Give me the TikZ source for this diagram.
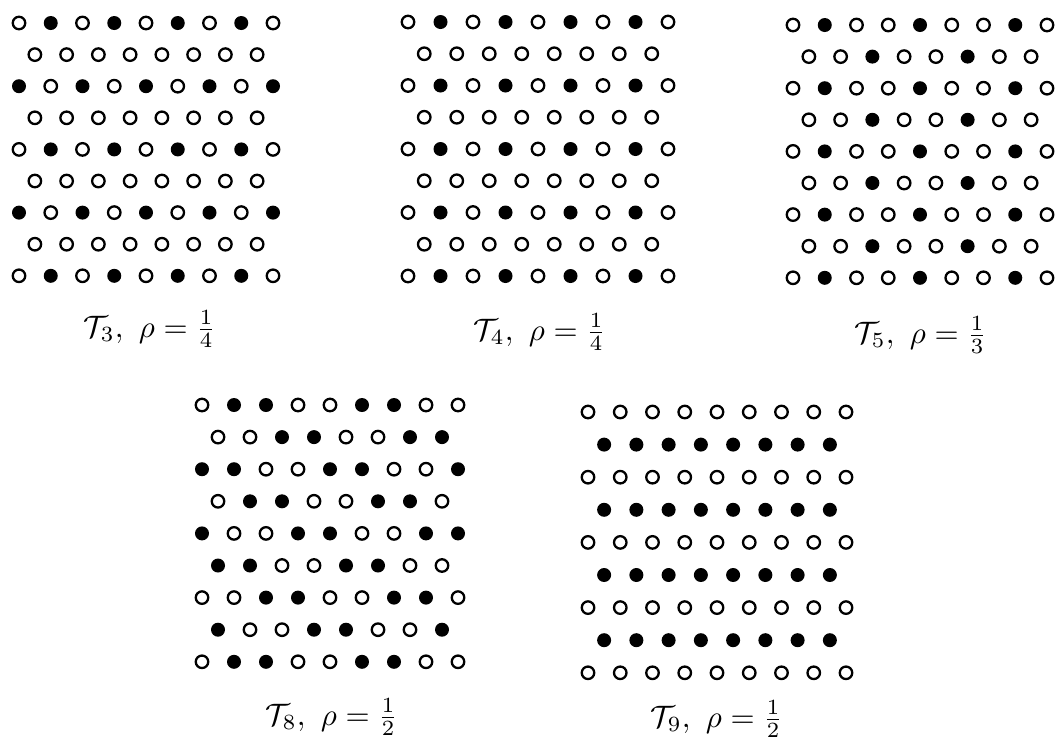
\documentclass[tikz,border=0pt]{standalone}
\tikzset{
  opendot/.style={circle, draw=black, line width=2.3pt, minimum size=12.5pt, inner sep=0pt},
  filldot/.style={circle, fill=black, minimum size=14pt, inner sep=0pt},
  lbl/.style={anchor=base, inner sep=0pt, scale=3.1}
}
\newcommand\drawlattice[6]{%
  \foreach \row [count=\r from 0] in {#6} {
    \foreach \v [count=\c from 0] in \row {
      \pgfmathsetmacro\xx{#2+#4*\c+mod(\r,2)*#4/2}
      \pgfmathsetmacro\yy{#3+#5*\r}
      \ifnum\v=1
        \node[filldot] (#1-\r-\c) at (\xx,\yy) {};
      \else
        \node[opendot] (#1-\r-\c) at (\xx,\yy) {};
      \fi
    }
  }
}
\begin{document}
\begin{tikzpicture}[x=1pt,y=-1pt]
\useasboundingbox (0,0) rectangle (1057,740);
% T3
\drawlattice{A}{19}{23}{31.75}{31.6}{{0,1,0,1,0,1,0,1,0},{0,0,0,0,0,0,0,0},{1,0,1,0,1,0,1,0,1},{0,0,0,0,0,0,0,0},{0,1,0,1,0,1,0,1,0},{0,0,0,0,0,0,0,0},{1,0,1,0,1,0,1,0,1},{0,0,0,0,0,0,0,0},{0,1,0,1,0,1,0,1,0}}
% T4
\drawlattice{B}{408}{22}{32.5}{31.75}{{0,1,0,1,0,1,0,1,0},{0,0,0,0,0,0,0,0},{0,1,0,1,0,1,0,1,0},{0,0,0,0,0,0,0,0},{0,1,0,1,0,1,0,1,0},{0,0,0,0,0,0,0,0},{0,1,0,1,0,1,0,1,0},{0,0,0,0,0,0,0,0},{0,1,0,1,0,1,0,1,0}}
% T5
\drawlattice{C}{793}{25}{31.75}{31.6}{{0,1,0,0,1,0,0,1,0},{0,0,1,0,0,1,0,0},{0,1,0,0,1,0,0,1,0},{0,0,1,0,0,1,0,0},{0,1,0,0,1,0,0,1,0},{0,0,1,0,0,1,0,0},{0,1,0,0,1,0,0,1,0},{0,0,1,0,0,1,0,0},{0,1,0,0,1,0,0,1,0}}
% T8
\drawlattice{D}{202}{405}{32}{32.1}{{0,1,1,0,0,1,1,0,0},{0,0,1,1,0,0,1,1},{1,1,0,0,1,1,0,0,1},{0,1,1,0,0,1,1,0},{1,0,0,1,1,0,0,1,1},{1,1,0,0,1,1,0,0},{0,0,1,1,0,0,1,1,0},{1,0,0,1,1,0,0,1},{0,1,1,0,0,1,1,0,0}}
% T9
\drawlattice{E}{588}{412}{32.25}{32.6}{{0,0,0,0,0,0,0,0,0},{1,1,1,1,1,1,1,1},{0,0,0,0,0,0,0,0,0},{1,1,1,1,1,1,1,1},{0,0,0,0,0,0,0,0,0},{1,1,1,1,1,1,1,1},{0,0,0,0,0,0,0,0,0},{1,1,1,1,1,1,1,1},{0,0,0,0,0,0,0,0,0}}
% labels
\node[lbl] (lA) at (150,337) {$\mathcal{T}_3,\ \rho=\frac{1}{4}$};
\node[lbl] (lB) at (540,340) {$\mathcal{T}_4,\ \rho=\frac{1}{4}$};
\node[lbl] (lC) at (921,343) {$\mathcal{T}_5,\ \rho=\frac{1}{3}$};
\node[lbl] (lD) at (332,725) {$\mathcal{T}_8,\ \rho=\frac{1}{2}$};
\node[lbl] (lE) at (717,727) {$\mathcal{T}_9,\ \rho=\frac{1}{2}$};
\end{tikzpicture}
\end{document}
